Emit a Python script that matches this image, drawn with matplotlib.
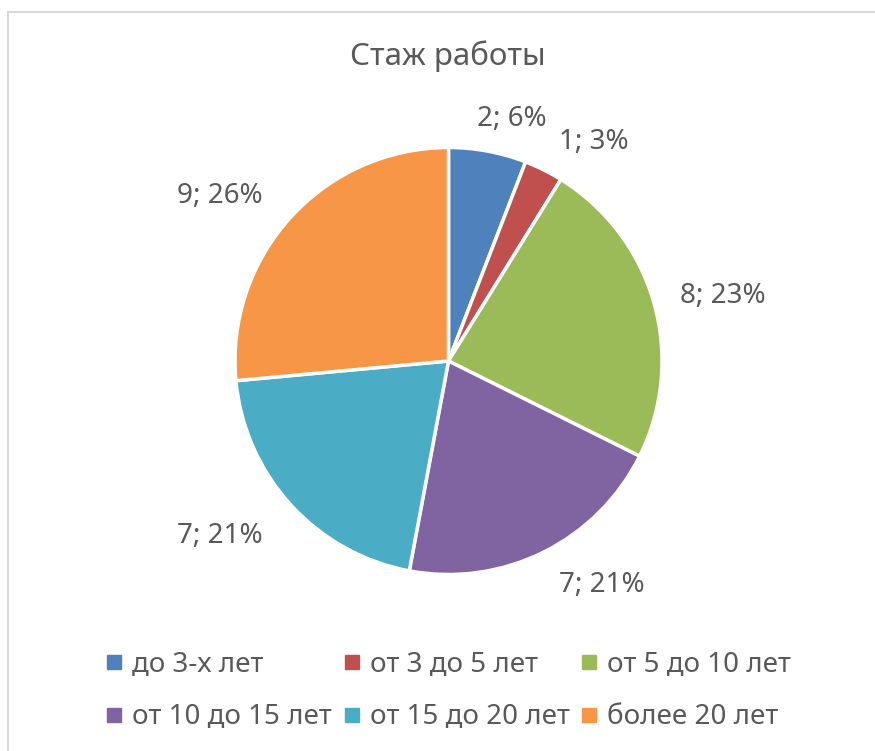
import matplotlib.pyplot as plt
from matplotlib.lines import Line2D
from matplotlib.patches import Rectangle
import numpy as np

plt.rcParams['font.family'] = ['Noto Sans', 'DejaVu Sans']

# data
categories = ['до 3-х лет', 'от 3 до 5 лет', 'от 5 до 10 лет',
              'от 10 до 15 лет', 'от 15 до 20 лет', 'более 20 лет']
values = [2, 1, 8, 7, 7, 9]
percent_labels = ['6%', '3%', '23%', '21%', '21%', '26%']
colors = ['#4F81BD', '#C0504D', '#9BBB59', '#8064A2', '#4BACC6', '#F79646']

text_color = '#595959'

fig = plt.figure(figsize=(8.75, 7.51), dpi=100)

# light chart border
fig.patches.append(Rectangle((8 / 875, -0.1), 1.2, (751 - 12) / 751 + 0.1,
                             transform=fig.transFigure, fill=False,
                             edgecolor='#D9D9D9', linewidth=1.5))

ax = fig.add_axes([235 / 875, 176.5 / 751, 427 / 875, 427 / 751])
wedges, _ = ax.pie(values, colors=colors, startangle=90, counterclock=False,
                   radius=1, wedgeprops=dict(edgecolor='white', linewidth=2.5))
ax.set_xlim(-1, 1)
ax.set_ylim(-1, 1)
ax.set_aspect('equal')
ax.axis('off')

# label placement (radius factor, shift in degrees from the slice middle)
label_place = [(1.17, -4), (1.23, -7), (1.32, -2.5), (1.27, 8), (1.35, -5), (1.32, 6.5)]
total = sum(values)
start = 90.0
for v, pct, (r, shift) in zip(values, percent_labels, label_place):
    span = v / total * 360
    mid = np.deg2rad(start - span / 2 + shift)
    ax.text(r * np.cos(mid), r * np.sin(mid), f'{v}; {pct}', ha='center', va='center',
            fontsize=20, color=text_color, clip_on=False)
    start -= span

fig.text(448 / 875, 1 - 56 / 751, 'Стаж работы', ha='center', va='center',
         fontsize=22.5, color=text_color)

handles = [Line2D([], [], marker='s', linestyle='none', markersize=9.5,
                  markerfacecolor=c, markeredgecolor=c) for c in colors]
order = [0, 3, 1, 4, 2, 5]
leg = fig.legend([handles[i] for i in order], [categories[i] for i in order],
                 ncol=3, loc='center', bbox_to_anchor=(447 / 875, 1 - 691 / 751),
                 frameon=False, fontsize=20, handlelength=0.8, handletextpad=0.25,
                 columnspacing=0.3, labelspacing=0.88, borderpad=0)
for t in leg.get_texts():
    t.set_color(text_color)

fig.savefig('out.png', dpi=100)
